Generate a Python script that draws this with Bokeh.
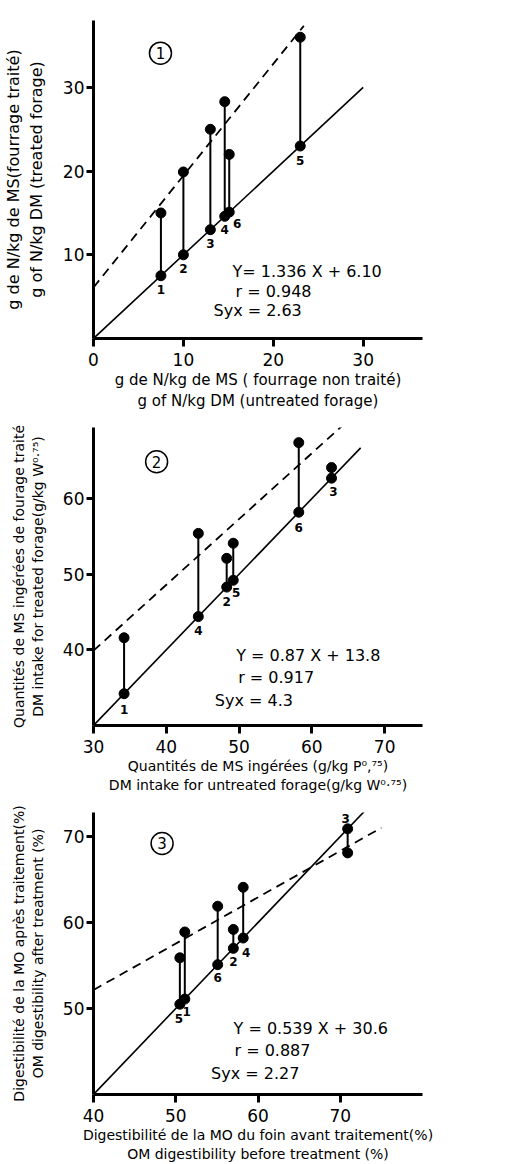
from bokeh.plotting import figure
from bokeh.layouts import column
from bokeh.models import FixedTicker, Label, Range1d
from bokeh.core.properties import value
from bokeh.embed import file_html
from bokeh.resources import INLINE

FONT = "DejaVu Sans"
FONT_V = value(FONT)

# ---------------- DATA ----------------
# Panel 1 : nitrogen content, g N / kg DM
p1_ids = ["1", "2", "3", "4", "6", "5"]
p1_untreated = [7.5, 10.0, 13.0, 14.6, 15.1, 23.0]
p1_treated = [15.0, 19.9, 25.0, 28.3, 22.0, 36.0]
p1_fit = (1.336, 6.10)
p1_fit_x = [0, 23.4]
p1_ident_x = [0, 30]
p1_stats = ["Y= 1.336 X + 6.10", "r = 0.948", "Syx = 2.63"]
p1_xticks = [0, 10, 20, 30]
p1_yticks = [10, 20, 30]
p1_xtitle = "g de N/kg de MS ( fourrage non traité)\ng of N/kg DM (untreated forage)"
p1_ytitle = "g de N/kg de MS(fourrage traité)\ng of N/kg DM (treated forage)"

# Panel 2 : DM intake, g/kg W^0.75
p2_ids = ["1", "4", "2", "5", "6", "3"]
p2_untreated = [34.2, 44.4, 48.3, 49.2, 58.2, 62.7]
p2_treated = [41.6, 55.4, 52.1, 54.1, 67.4, 64.1]
p2_fit = (0.87, 13.8)
p2_fit_x = [30, 64.9]
p2_ident_x = [30, 66.7]
p2_stats = ["Y = 0.87 X + 13.8", "r = 0.917", "Syx = 4.3"]
p2_xticks = [30, 40, 50, 60, 70]
p2_yticks = [40, 50, 60]
p2_xtitle = "Quantités de MS ingérées (g/kg P⁰,⁷⁵)\nDM intake for untreated forage(g/kg W⁰·⁷⁵)"
p2_ytitle = "Quantités de MS ingérées de fourage traité\nDM intake for treated forage(g/kg W⁰·⁷⁵)"

# Panel 3 : OM digestibility, %
p3_ids = ["5", "1", "6", "2", "4", "3"]
p3_untreated = [50.5, 51.1, 55.1, 57.0, 58.2, 70.9]
p3_treated = [55.9, 58.9, 61.9, 59.2, 64.1, 68.1]
p3_fit = (0.539, 30.6)
p3_fit_x = [40, 75]
p3_ident_x = [40, 73.4]
p3_stats = ["Y = 0.539 X + 30.6", "r = 0.887", "Syx = 2.27"]
p3_xticks = [40, 50, 60, 70]
p3_yticks = [50, 60, 70]
p3_xtitle = "Digestibilité de la MO du foin avant traitement(%)\nOM digestibility before treatment (%)"
p3_ytitle = "Digestibilité de la MO après traitement(%)\nOM digestibility after treatment (%)"

# ---------------- STYLE / LAYOUT ----------------
p1_lab_off = [(0, 14), (0, 14), (0, 14), (0, 13), (8, 11), (0, 14)]
p2_lab_off = [(0, 16), (0, 14), (0, 14), (3, 12), (0, 15), (2, 13)]
p3_lab_off = [(-1, 14), (2, 12), (0, 13), (0, 13), (3, 14), (-2, -10)]


def make_panel(H, border_top, border_bottom, border_right, xr, yr, xticks, yticks,
               xtitle, ytitle, ytitle_size, xtitle_size="14px"):
    p = figure(width=497, height=H, x_range=Range1d(*xr), y_range=Range1d(*yr),
               output_backend="svg", toolbar_location=None,
               min_border_left=93, min_border_right=border_right,
               min_border_top=border_top, min_border_bottom=border_bottom)
    p.outline_line_color = None
    p.grid.visible = False
    p.background_fill_color = "white"
    p.xaxis.ticker = FixedTicker(ticks=xticks, minor_ticks=[])
    p.yaxis.ticker = FixedTicker(ticks=yticks, minor_ticks=[])
    for ax in (p.xaxis, p.yaxis):
        ax.axis_line_width = 3
        ax.axis_line_color = "black"
        ax.major_tick_line_width = 3
        ax.major_tick_line_color = "black"
        ax.major_tick_in = 0
        ax.minor_tick_out = 0
        ax.minor_tick_in = 0
        ax.major_label_text_font = FONT
        ax.major_label_text_font_size = "17px"
        ax.major_label_text_color = "black"
        ax.axis_label_text_font = FONT
        ax.axis_label_text_font_style = "normal"
        ax.axis_label_text_color = "black"
    p.xaxis.major_tick_out = 8
    p.xaxis.major_label_standoff = 6
    p.yaxis.major_tick_out = 7
    p.yaxis.major_label_standoff = 2
    p.xaxis.axis_label = xtitle
    p.xaxis.axis_label_text_font_size = xtitle_size
    p.xaxis.axis_label_standoff = 2
    p.yaxis.axis_label = ytitle
    p.yaxis.axis_label_text_font_size = ytitle_size
    p.yaxis.axis_label_standoff = 14
    return p


def draw(p, ids, untr, treat, fit, fit_x, ident_x, offs):
    a, b = fit
    p.line(ident_x, ident_x, line_color="black", line_width=1.6)
    p.line(fit_x, [a * x + b for x in fit_x], line_color="black", line_width=1.8,
           line_dash="9 6")
    p.segment(x0=untr, y0=untr, x1=untr, y1=treat, line_color="black", line_width=2)
    p.scatter(untr, untr, size=10, color="black")
    p.scatter(untr, treat, size=10, color="black")
    p.text(x=untr, y=untr, text=ids,
           x_offset=[o[0] for o in offs], y_offset=[o[1] for o in offs],
           text_font=FONT_V, text_font_size="12px", text_font_style="bold",
           text_align="center", text_baseline="middle", text_color="black")


def circled(p, cx, cy, num):
    p.scatter([cx], [cy], size=22, fill_color=None, line_color="black", line_width=1.5)
    p.text(x=[cx], y=[cy], text=[num], text_font=FONT_V, text_font_size="15px",
           text_align="center", text_baseline="middle", text_color="black")


def stats(p, xs, ys, lines):
    for x, y, t in zip(xs, ys, lines):
        p.add_layout(Label(x=x, y=y, text=t, text_font=FONT, text_font_size="16px",
                           text_align="left", text_baseline="middle", text_color="black"))


# Panel 1
f1 = make_panel(413, 20, 70, 75, (0, 36.6), (0, 38), p1_xticks, p1_yticks,
                p1_xtitle, p1_ytitle, "16px", "15px")
draw(f1, p1_ids, p1_untreated, p1_treated, p1_fit, p1_fit_x, p1_ident_x, p1_lab_off)
circled(f1, 7.45, 34.1, "1")
stats(f1, [15.46, 15.8, 13.35], [8.0, 5.65, 3.3], p1_stats)

# Panel 2
f2 = make_panel(384, 14, 72, 65, (30, 75.2), (30, 69.4), p2_xticks, p2_yticks,
                p2_xtitle, p2_ytitle, "14px")
draw(f2, p2_ids, p2_untreated, p2_treated, p2_fit, p2_fit_x, p2_ident_x, p2_lab_off)
circled(f2, 38.67, 64.87, "2")
stats(f2, [49.6, 49.87, 46.67], [39.25, 36.34, 33.3], p2_stats)

# Panel 3
f3 = make_panel(367, 15, 68, 54, (40, 80), (40, 72.8), p3_xticks, p3_yticks,
                p3_xtitle, p3_ytitle, "14px")
draw(f3, p3_ids, p3_untreated, p3_treated, p3_fit, p3_fit_x, p3_ident_x, p3_lab_off)
circled(f3, 48.34, 69.2, "3")
stats(f3, [57.03, 57.14, 54.29], [47.62, 45.08, 42.42], p3_stats)

layout = column(f1, f2, f3, spacing=0)
open("out.html", "w").write(file_html(layout, INLINE))
